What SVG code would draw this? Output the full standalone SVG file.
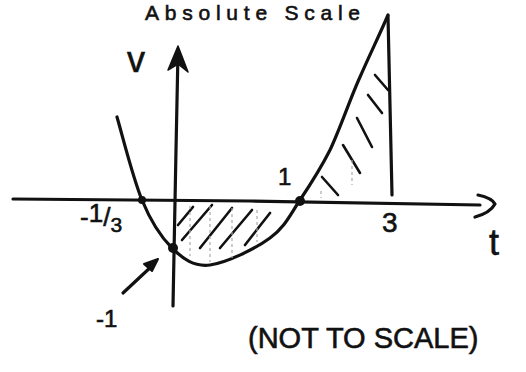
<svg xmlns="http://www.w3.org/2000/svg" width="526" height="372" viewBox="0 0 526 372">
<style>
.ink{fill:none;stroke:#111;stroke-width:3.2;stroke-linecap:round;stroke-linejoin:round}
.hatch{fill:none;stroke:#111;stroke-width:2.6;stroke-linecap:round}
.faint{fill:none;stroke:#aaa;stroke-width:1.2;stroke-dasharray:3 3}
.lbl{font-family:"Liberation Sans",Arial,sans-serif;fill:#111;stroke:#111;stroke-width:0.6}
.dot{fill:#111}
</style>
<rect width="526" height="372" fill="#fff"/>
<text class="lbl" x="145" y="20" font-size="21" textLength="215" lengthAdjust="spacing">Absolute Scale</text>
<g id="connectors">
<path id="t-axis" class="ink" d="M13,199 L250,201 L480,205"/>
<path id="t-arrowhead" class="ink" d="M478,195 Q492,198 495,204 Q490,213 475,217"/>
<path id="v-axis" class="ink" d="M173,306 L176,150 L178,52"/>
<path id="v-arrowhead" d="M178,46 L168,70 L178,64 L188,72 z" fill="#111" stroke="#111" stroke-width="1.5" stroke-linejoin="round"/>
<path id="curve" class="ink" d="M117,117 C125,145 133,178 142,200 C151,222 161,237 172,248 C183,259 194,267 210,265 C226,263 255,249 270,238 C285,227 290,215 300,200 C310,185 320,170 330,150 C340,129 350,99 360,77 C370,54 379,36 388,15"/>
<path id="t3-line" class="ink" d="M388,16 L392,195"/>
<path id="pointer" class="ink" d="M123,293 L153,265"/>
<path d="M158,259 L144,264 L152,271 z" fill="#111" stroke="#111" stroke-width="2" stroke-linejoin="round"/>
</g>
<g id="hatching-lower">
<path class="hatch" d="M178,225 L193,207"/>
<path class="hatch" d="M182,240 L212,205"/>
<path class="hatch" d="M200,248 L232,208"/>
<path class="hatch" d="M220,248 L252,210"/>
<path class="hatch" d="M245,245 L270,213"/>
<path class="faint" d="M190,206 L190,256"/>
<path class="faint" d="M210,206 L210,262"/>
<path class="faint" d="M232,208 L232,258"/>
<path class="faint" d="M257,210 L257,242"/>
</g>
<g id="hatching-upper">
<path class="hatch" d="M375,75 L388,90"/>
<path class="hatch" d="M368,95 L382,113"/>
<path class="hatch" d="M357,118 L372,147"/>
<path class="hatch" d="M343,145 L360,173"/>
<path class="hatch" d="M322,177 L338,195"/>
<path class="faint" d="M352,160 L352,185"/>
<path class="faint" d="M321,191 L321,198"/>
</g>
<g id="node-root-neg">
<circle class="dot" cx="142" cy="200" r="4"/>
</g>
<g id="node-v-intercept">
<circle class="dot" cx="173" cy="248" r="5"/>
</g>
<g id="node-root-1">
<circle class="dot" cx="300" cy="201" r="5"/>
</g>
<g id="labels">
<text class="lbl" x="127" y="72" font-size="36">v</text>
<text class="lbl" x="489" y="255" font-size="36">t</text>
<text class="lbl" x="382" y="232" font-size="28">3</text>
<text class="lbl" x="278" y="185" font-size="24">1</text>
<text class="lbl" x="80" y="226" font-size="26"><tspan>-</tspan><tspan dy="-4">1</tspan><tspan dy="4">/</tspan><tspan dy="6" font-size="21">3</tspan></text>
<text class="lbl" x="96" y="327" font-size="24">-1</text>
<text class="lbl" x="248" y="348" font-size="29">(NOT TO SCALE)</text>
</g>
</svg>
